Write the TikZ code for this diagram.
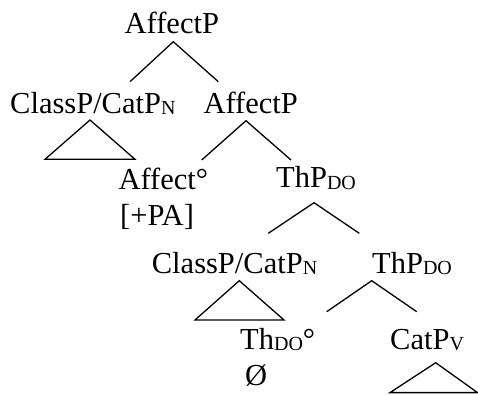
\documentclass[tikz,border=0pt]{standalone}
\usepackage{fontspec}
\setmainfont{Liberation Serif}
\newcommand\sbs[1]{\raisebox{-1.5pt}{\fontsize{20}{22}\selectfont #1}}
\begin{document}
\begin{tikzpicture}[x=1pt,y=-1pt,
  lbl/.style={anchor=base west,inner sep=0pt,font=\fontsize{30.5}{36}\selectfont},
  branch/.style={line width=1.3pt,line join=miter},
  tri/.style={line width=1.3pt,line join=miter}]
\useasboundingbox (0,0) rectangle (478,394);
% labels
\node[lbl] (root) at (124.5,33.3) {AffectP};
\node[lbl] (cls1) at (10,113.3) {ClassP/CatP\sbs{N}};
\node[lbl] (aff2) at (203.3,113.3) {AffectP};
\node[lbl] (affh) at (118.3,189.3) {Affect°};
\node[lbl] (feat) at (120,225.5) {[+PA]};
\node[lbl] (thp1) at (276,187.5) {ThP\sbs{DO}};
\node[lbl] (cls2) at (151.7,273.3) {ClassP/CatP\sbs{N}};
\node[lbl] (thp2) at (372,273.3) {ThP\sbs{DO}};
\node[lbl] (thh) at (240,349.3) {Th\sbs{DO}°};
\node[lbl] (null) at (245,385) {Ø};
\node[lbl] (catv) at (390,349.3) {CatP\sbs{V}};
% branch coordinates
\coordinate (r0) at (173.3,41.7);
\coordinate (r1) at (130,81.7);
\coordinate (r2) at (218.3,81.7);
\coordinate (a0) at (246,120.7);
\coordinate (a1) at (201.7,160);
\coordinate (a2) at (291,160);
\coordinate (t0) at (314,202.7);
\coordinate (t1) at (268.3,233.3);
\coordinate (t2) at (359.3,233.3);
\coordinate (u0) at (371.7,280.7);
\coordinate (u1) at (326.7,311.7);
\coordinate (u2) at (416.7,311.7);
\coordinate (c0) at (90,120);
\coordinate (c1) at (45,159.3);
\coordinate (c2) at (135,159.3);
\coordinate (d0) at (239.3,280.7);
\coordinate (d1) at (195,320);
\coordinate (d2) at (284,320);
\coordinate (v0) at (435.7,362.7);
\coordinate (v1) at (390,392.6);
\coordinate (v2) at (477.5,392.6);
% branches
\draw[branch] (r1) -- (r0) -- (r2);
\draw[branch] (a1) -- (a0) -- (a2);
\draw[branch] (t1) -- (t0) -- (t2);
\draw[branch] (u1) -- (u0) -- (u2);
% triangles
\draw[tri] (c0) -- (c1) -- (c2) -- cycle;
\draw[tri] (d0) -- (d1) -- (d2) -- cycle;
\draw[tri] (v0) -- (v1) -- (v2) -- cycle;
\end{tikzpicture}
\end{document}
